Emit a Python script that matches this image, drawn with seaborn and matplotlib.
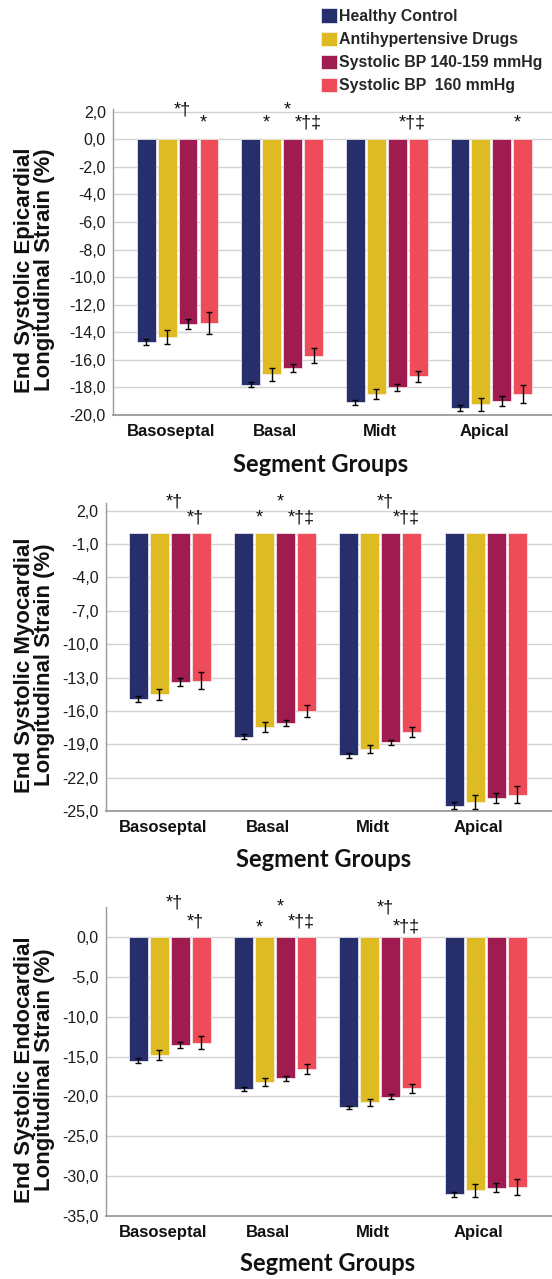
import numpy as np
import pandas as pd
import matplotlib
matplotlib.use('Agg')
import matplotlib.pyplot as plt
import matplotlib.transforms as mtransforms
from matplotlib.ticker import FixedLocator, FuncFormatter
import seaborn as sns

# -------------------------------
# Data
# -------------------------------
segments = ['Basoseptal', 'Basal', 'Midt', 'Apical']
groups = ['Healthy Control', 'Antihypertensive Drugs',
          'Systolic BP 140-159 mmHg', 'Systolic BP  160 mmHg']
colors = ['#262E6B', '#DEBB22', '#A01C50', '#EF4C59']

# rows = segments, columns = groups
epi_mean = [[-14.67, -14.35, -13.43, -13.34],
            [-17.80, -17.05, -16.60, -15.69],
            [-19.06, -18.47, -17.99, -17.19],
            [-19.47, -19.23, -18.98, -18.47]]
epi_err = [[0.22, 0.50, 0.36, 0.79],
           [0.20, 0.46, 0.28, 0.53],
           [0.18, 0.36, 0.24, 0.42],
           [0.23, 0.50, 0.37, 0.64]]

myo_mean = [[-14.96, -14.51, -13.43, -13.29],
            [-18.32, -17.48, -17.06, -15.99],
            [-20.00, -19.43, -18.83, -17.90],
            [-24.53, -24.20, -23.86, -23.54]]
myo_err = [[0.27, 0.48, 0.35, 0.75],
           [0.22, 0.45, 0.27, 0.52],
           [0.19, 0.36, 0.25, 0.45],
           [0.30, 0.63, 0.45, 0.75]]

endo_mean = [[-15.52, -14.80, -13.55, -13.25],
             [-19.08, -18.20, -17.74, -16.53],
             [-21.39, -20.76, -20.05, -19.00],
             [-32.33, -31.83, -31.50, -31.41]]
endo_err = [[0.31, 0.60, 0.42, 0.84],
            [0.25, 0.48, 0.31, 0.63],
            [0.23, 0.42, 0.31, 0.55],
            [0.34, 0.82, 0.57, 1.03]]

epi_ticks = [2, 0, -2, -4, -6, -8, -10, -12, -14, -16, -18, -20]
myo_ticks = [2, -1, -4, -7, -10, -13, -16, -19, -22, -25]
endo_ticks = [0, -5, -10, -15, -20, -25, -30, -35]

# significance marks: (segment, group, text, height)
epi_marks = [(0, 2, '*†', 2.13), (0, 3, '*', 1.16),
             (1, 1, '*', 1.16), (1, 2, '*', 2.13), (1, 3, '*†‡', 1.16),
             (2, 3, '*†‡', 1.16), (3, 3, '*', 1.16)]
myo_marks = [(0, 2, '*†', 2.81), (0, 3, '*†', 1.32),
             (1, 1, '*', 1.32), (1, 2, '*', 2.81), (1, 3, '*†‡', 1.32),
             (2, 2, '*†', 2.81), (2, 3, '*†‡', 1.32)]
endo_marks = [(0, 2, '*†', 4.28), (0, 3, '*†', 1.96),
              (1, 1, '*', 1.13), (1, 2, '*', 3.85), (1, 3, '*†‡', 1.96),
              (2, 2, '*†', 3.65), (2, 3, '*†‡', 1.33)]

ylabels = ['End Systolic Epicardial\nLongitudinal Strain (%)',
           'End Systolic Myocardial\nLongitudinal Strain (%)',
           'End Systolic Endocardial\nLongitudinal Strain (%)']

panels = [
    dict(mean=epi_mean, err=epi_err, ticks=epi_ticks, marks=epi_marks,
         rect=[0.2042, 0.6755, 0.7958, 0.2393], ylim=(-20, 2.2), xlim=(-0.62, 3.58),
         xlab=(0.474, -0.163), ylab_x=-0.178),
    dict(mean=myo_mean, err=myo_err, ticks=myo_ticks, marks=myo_marks,
         rect=[0.1913, 0.3659, 0.8087, 0.2406], ylim=(-25, 2.67), xlim=(-0.61, 3.63),
         xlab=(0.489, -0.159), ylab_x=-0.160),
    dict(mean=endo_mean, err=endo_err, ticks=endo_ticks, marks=endo_marks,
         rect=[0.1913, 0.0495, 0.8087, 0.2416], ylim=(-35, 3.85), xlim=(-0.61, 3.63),
         xlab=(0.498, -0.154), ylab_x=-0.160),
]

# -------------------------------
# Style
# -------------------------------
sns.set_style('white')
plt.rcParams['font.family'] = ['Liberation Sans', 'DejaVu Sans']

fig = plt.figure(figsize=(5.52, 12.79), dpi=100)
comma_fmt = FuncFormatter(lambda v, p: f"{v:.1f}".replace('.', ','))
shift_left = mtransforms.ScaledTranslation(-7 / 100, 0, fig.dpi_scale_trans)

handles, labels = None, None
for i, p in enumerate(panels):
    ax = fig.add_axes(p['rect'])
    mean = np.array(p['mean'])
    err = np.array(p['err'])

    df = pd.DataFrame([(s, g, mean[si, gi]) for si, s in enumerate(segments)
                       for gi, g in enumerate(groups)],
                      columns=['segment', 'group', 'strain'])

    sns.barplot(data=df, x='segment', y='strain', hue='group', order=segments,
                hue_order=groups, palette=colors, saturation=1, errorbar=None,
                width=0.8, gap=0.1, edgecolor='#F4F4F4', linewidth=0.5, ax=ax,
                legend=(i == 0), zorder=2)

    if i == 0:
        handles, labels = ax.get_legend_handles_labels()
        ax.get_legend().remove()

    bars = list(ax.containers)[:len(groups)]
    centers = np.array([[b.get_x() + b.get_width() / 2 for b in cont] for cont in bars])

    # error bars
    for gi in range(len(groups)):
        ax.errorbar(centers[gi], mean[:, gi], yerr=err[:, gi], fmt='none',
                    ecolor='black', elinewidth=1.0, capsize=2.2, capthick=1.0, zorder=3)

    # significance marks
    for si, gi, txt, yv in p['marks']:
        ax.text(centers[gi, si] - 0.055, yv, txt, ha='center', va='center',
                fontsize=13, color='#111111', clip_on=False)

    ax.set_ylim(*p['ylim'])
    ax.set_xlim(*p['xlim'])
    ax.yaxis.set_major_locator(FixedLocator(p['ticks']))
    ax.yaxis.set_major_formatter(comma_fmt)
    ax.yaxis.grid(True, color='#D2D2D2', linewidth=1.0)
    ax.xaxis.grid(False)
    ax.set_axisbelow(True)

    sns.despine(ax=ax)
    ax.spines['left'].set_color('#9A9A9A')
    ax.spines['left'].set_linewidth(1.0)
    ax.spines['bottom'].set_color('#9A9A9A')
    ax.spines['bottom'].set_linewidth(1.3)

    ax.tick_params(axis='y', length=0, pad=5, labelsize=11.5, labelcolor='#1A1A1A')
    ax.tick_params(axis='x', length=0, pad=6.5, labelsize=12, labelcolor='#111111')
    for lbl in ax.get_xticklabels():
        lbl.set_fontweight('bold')
        lbl.set_transform(lbl.get_transform() + shift_left)

    ax.set_ylabel(ylabels[i], fontsize=16, fontweight='bold', linespacing=0.92,
                  va='center', color='#111111')
    ax.yaxis.set_label_coords(p['ylab_x'], 0.474)

    ax.set_xlabel('Segment Groups', family=['Lato', 'DejaVu Sans'], fontsize=17,
                  fontweight='bold', va='center', color='#111111')
    ax.xaxis.set_label_coords(*p['xlab'])

fig.legend(handles, labels, loc='upper left', bbox_to_anchor=(0.581, 0.9934),
           frameon=False, prop={'weight': 'bold', 'size': 11.4},
           handlelength=1.0, handleheight=1.0, handletextpad=0.15,
           labelspacing=0.48, borderpad=0, borderaxespad=0)

fig.savefig('out.png', dpi=100)
